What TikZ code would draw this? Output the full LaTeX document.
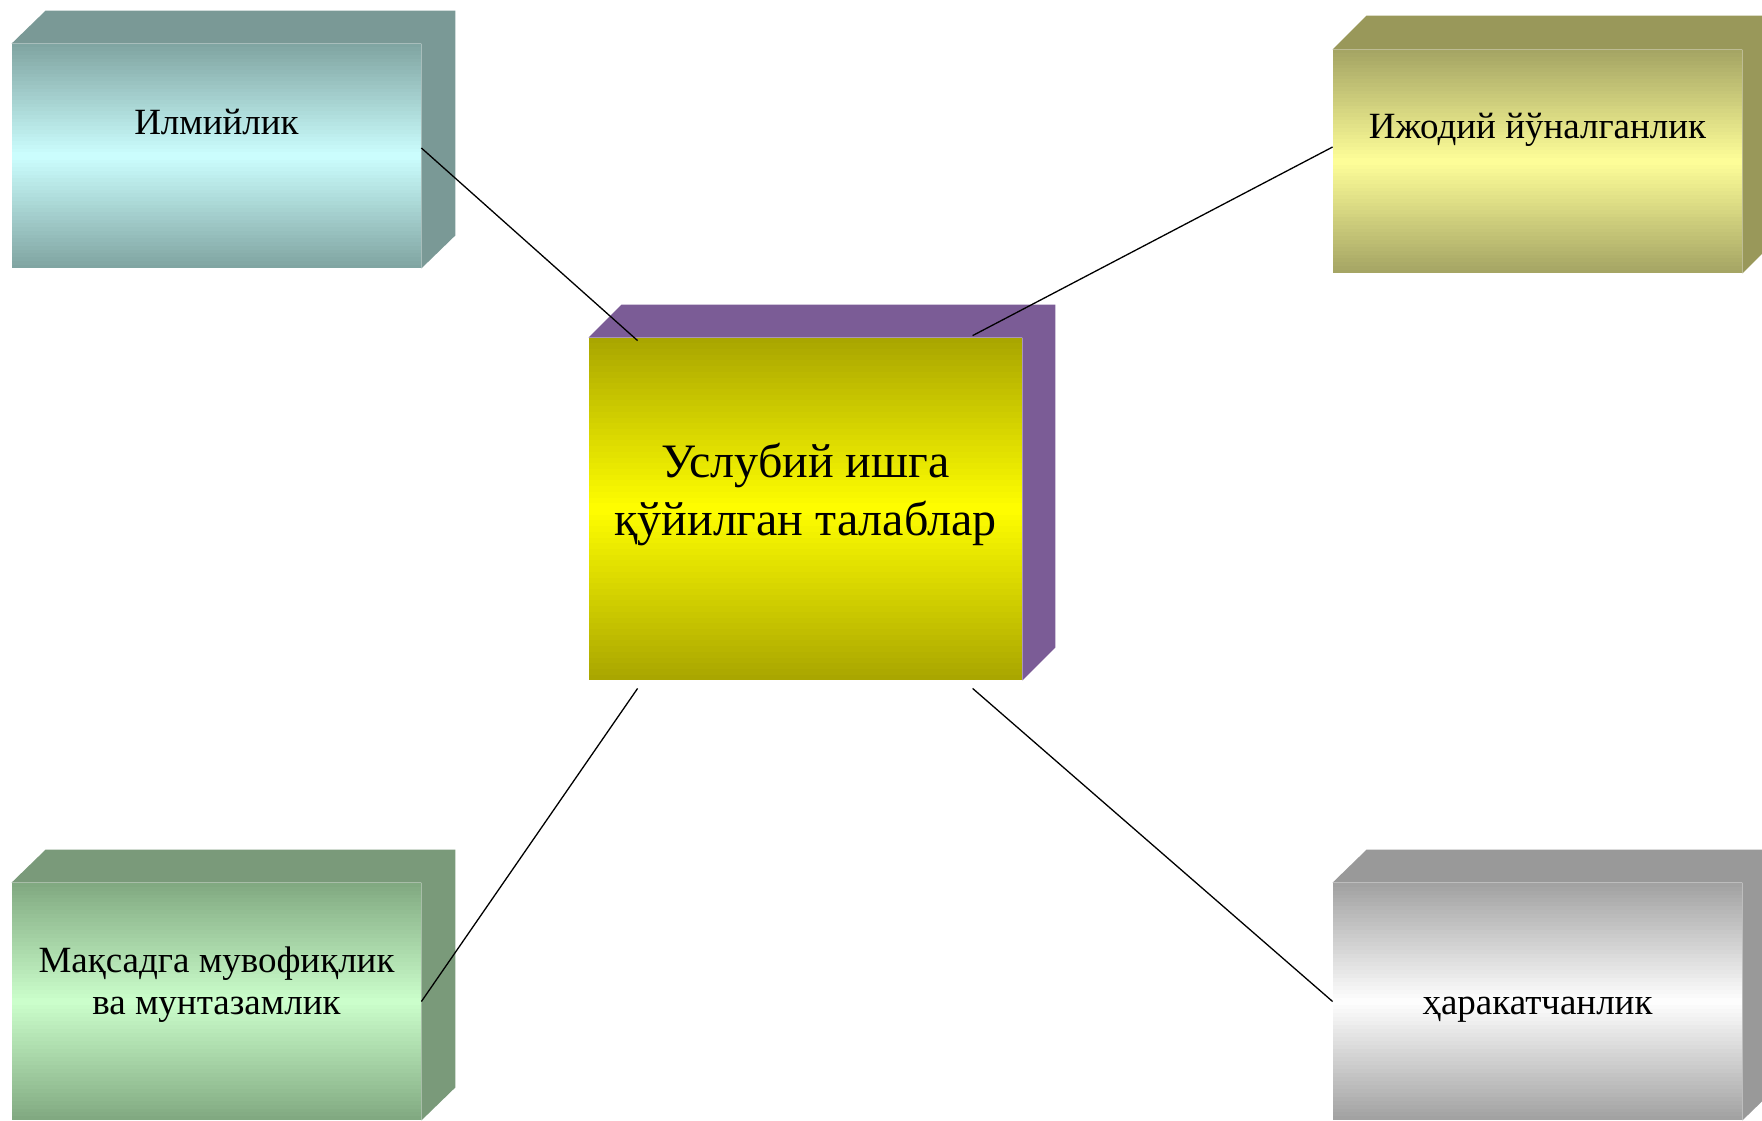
\documentclass[tikz,border=0pt]{standalone}
\usepackage{fontspec}
\setmainfont{Liberation Serif}
\usetikzlibrary{calc}
\begin{document}
\begin{tikzpicture}[x=0.5pt,y=-0.5pt,
  face/.style={rectangle, inner sep=0pt, draw=none},
  lbl/.style={inner sep=0pt, align=center, text=black, anchor=base, font=\fontsize{18.5}{20.8}\selectfont},
  biglbl/.style={inner sep=0pt, align=center, text=black, anchor=base, font=\fontsize{24}{28.6}\selectfont},
  conn/.style={draw=black, line width=0.65pt}]
\definecolor{sideA}{HTML}{7A9996}\definecolor{topA}{HTML}{7FA3A0}\definecolor{midA}{HTML}{CCFFFF}
\definecolor{sideB}{HTML}{99985A}\definecolor{topB}{HTML}{A3A363}\definecolor{midB}{HTML}{FFFF99}
\definecolor{sideC}{HTML}{7B5C96}\definecolor{topC}{HTML}{A8A400}\definecolor{midC}{HTML}{FFFF00}
\definecolor{sideD}{HTML}{7A9A7A}\definecolor{topD}{HTML}{80A880}\definecolor{midD}{HTML}{CCFFCC}
\definecolor{sideE}{HTML}{999999}\definecolor{topE}{HTML}{A0A0A0}\definecolor{midE}{HTML}{FFFFFF}
\useasboundingbox (0,0) rectangle (1762,1120);
\clip (0,0) rectangle (1762,1120);
% front faces
\node[face, minimum width=204.5pt, minimum height=112pt] (f1) at (216.5,156) {};
\node[face, minimum width=204.5pt, minimum height=111.5pt] (f2) at (1537.5,161.5) {};
\node[face, minimum width=216.5pt, minimum height=171pt] (f0) at (805.5,509) {};
\node[face, minimum width=204.5pt, minimum height=118.5pt] (f4) at (216.5,1001.5) {};
\node[face, minimum width=204.5pt, minimum height=118.5pt] (f5) at (1537.5,1001.5) {};
% gradient fill of the front faces (strips)
\foreach \n/\ct/\cm in {f1/topA/midA, f2/topB/midB, f0/topC/midC, f4/topD/midD, f5/topE/midE}{
  \foreach \i in {0,...,59}{
    \pgfmathsetmacro{\ta}{\i/60}
    \pgfmathsetmacro{\tb}{min(1,(\i+1.6)/60)}
    \pgfmathsetmacro{\pc}{abs(2*(\i+0.5)/60-1)*100}
    \fill[color=\ct!\pc!\cm] ($(\n.north west)!\ta!(\n.south west)$) rectangle ($(\n.north east)!\tb!(\n.south east)$);
  }
}
% top and right faces
\foreach \n/\c/\dx/\dy in {f1/sideA/34/-33, f2/sideB/34/-34, f0/sideC/33/-33, f4/sideD/34/-33, f5/sideE/34/-33}{
  \fill[\c] (\n.north west) -- ++(\dx,\dy) -- ([shift={(\dx,\dy)}]\n.north east)
    -- ([shift={(\dx,\dy)}]\n.south east) -- (\n.south east) -- (\n.north east) -- cycle;
}
% labels (anchored at baseline of last line)
\node[lbl] (t1) at (216.5,134) {Илмийлик};
\node[lbl] (t2) at (1537.5,138) {Ижодий йўналганлик};
\node[biglbl] (t0) at (805.5,535) {Услубий ишга\\қўйилган талаблар};
\node[lbl] (t4) at (216.5,1014) {Мақсадга мувофиқлик\\ва мунтазамлик};
\node[lbl] (t5) at (1537.5,1014) {ҳаракатчанлик};
% connectors
\draw[conn] ([shift={(0,-8)}]f1.east) -- ([shift={(49,3)}]f0.north west);
\draw[conn] ([shift={(384,-2)}]f0.north west) -- ([shift={(0,-14.5)}]f2.west);
\draw[conn] ([shift={(49,8)}]f0.south west) -- (f4.east);
\draw[conn] ([shift={(384,8)}]f0.south west) -- (f5.west);
\end{tikzpicture}
\end{document}
